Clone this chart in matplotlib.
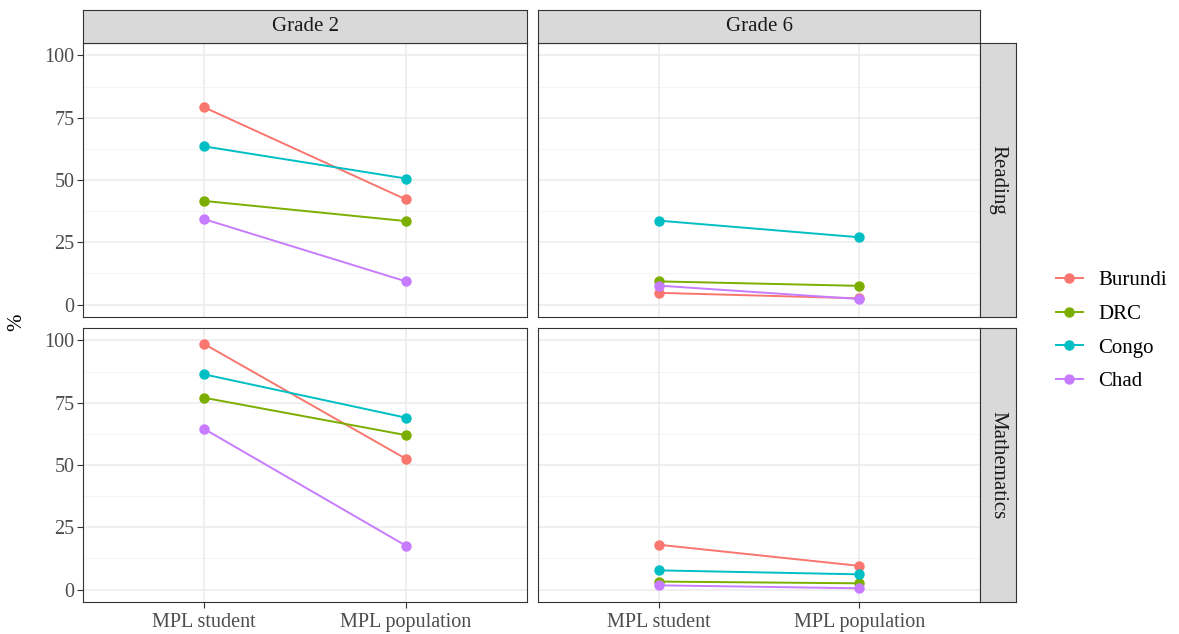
import numpy as np
import matplotlib
matplotlib.use("Agg")
import matplotlib.pyplot as plt
from matplotlib.lines import Line2D

plt.rcParams['font.family'] = ['Liberation Serif', 'DejaVu Serif']

# data
categories = ['MPL student', 'MPL population']
countries = ['Burundi', 'DRC', 'Congo', 'Chad']
colors = ['#F8766D', '#7CAE00', '#00BFC4', '#C77CFF']
grades = ['Grade 2', 'Grade 6']
subjects = ['Reading', 'Mathematics']

reading_g2 = {'Burundi': [79.2, 42.2], 'DRC': [41.6, 33.5], 'Congo': [63.5, 50.6], 'Chad': [34.3, 9.3]}
reading_g6 = {'Burundi': [4.7, 2.5], 'DRC': [9.3, 7.5], 'Congo': [33.7, 27.0], 'Chad': [7.6, 2.2]}
math_g2 = {'Burundi': [98.6, 52.5], 'DRC': [77.0, 62.0], 'Congo': [86.4, 69.0], 'Chad': [64.5, 17.6]}
math_g6 = {'Burundi': [18.0, 9.5], 'DRC': [3.2, 2.5], 'Congo': [7.7, 6.1], 'Chad': [1.7, 0.5]}

panel_data = {('Reading', 'Grade 2'): reading_g2, ('Reading', 'Grade 6'): reading_g6,
              ('Mathematics', 'Grade 2'): math_g2, ('Mathematics', 'Grade 6'): math_g6}

W, H = 1179, 634
fig = plt.figure(figsize=(W / 100, H / 100), dpi=100)

def box(x0, y0, x1, y1):
    # pixel box (top-left origin) -> figure fraction rect
    return [x0 / W, 1 - y1 / H, (x1 - x0) / W, (y1 - y0) / H]

col_x = [(83, 527), (538, 980)]
row_y = [(43, 317), (328, 602)]
border = '#333333'
tick_fs = 14.5
strip_fs = 15

for r, subj in enumerate(subjects):
    for c, gr in enumerate(grades):
        x0, x1 = col_x[c]
        y0, y1 = row_y[r]
        ax = fig.add_axes(box(x0, y0, x1, y1))
        xs = np.arange(1, len(categories) + 1)
        for name, col in zip(countries, colors):
            ax.plot(xs, panel_data[(subj, gr)][name], color=col, lw=1.4,
                    marker='o', ms=6.5, zorder=3)
        ax.set_xlim(0.4, 2.6)
        ax.set_ylim(-5, 105)
        ax.set_yticks([0, 25, 50, 75, 100])
        ax.set_yticks([12.5, 37.5, 62.5, 87.5], minor=True)
        ax.set_xticks(xs)
        ax.grid(True, which='major', color='#EBEBEB', lw=1.1, zorder=0)
        ax.grid(True, which='minor', axis='y', color='#F2F2F2', lw=0.6, zorder=0)
        ax.tick_params(which='minor', length=0)
        ax.tick_params(which='major', length=4, width=0.8, color=border,
                       labelsize=tick_fs, labelcolor='#4D4D4D', pad=2)
        ax.tick_params(axis='x', pad=4)
        for s in ax.spines.values():
            s.set_color(border)
            s.set_linewidth(0.8)
        if c == 0:
            ax.set_yticklabels(['0', '25', '50', '75', '100'])
        else:
            ax.tick_params(axis='y', left=False, labelleft=False)
        if r == 1:
            ax.set_xticklabels(categories)
        else:
            ax.tick_params(axis='x', bottom=False, labelbottom=False)

# column strips
for c, gr in enumerate(grades):
    x0, x1 = col_x[c]
    sax = fig.add_axes(box(x0, 10, x1, 43))
    sax.set_facecolor('#D9D9D9')
    sax.set_xticks([]); sax.set_yticks([])
    for s in sax.spines.values():
        s.set_color(border); s.set_linewidth(0.8)
    sax.text(0.5, 0.5, gr, ha='center', va='center', fontsize=strip_fs, color='#1A1A1A',
             transform=sax.transAxes)

# row strips
for r, subj in enumerate(subjects):
    y0, y1 = row_y[r]
    sax = fig.add_axes(box(980, y0, 1016, y1))
    sax.set_facecolor('#D9D9D9')
    sax.set_xticks([]); sax.set_yticks([])
    for s in sax.spines.values():
        s.set_color(border); s.set_linewidth(0.8)
    sax.text(0.5, 0.5, subj, ha='center', va='center', fontsize=strip_fs, color='#1A1A1A',
             rotation=-90, transform=sax.transAxes)

fig.text(17 / W, 1 - 322 / H, '%', rotation=90, ha='center', va='center', fontsize=15)

handles = [Line2D([0], [0], color=col, lw=1.4, marker='o', ms=6.5) for col in colors]
fig.legend(handles, countries, loc='center left', bbox_to_anchor=(1037 / W, 1 - 331 / H),
           frameon=False, fontsize=15, handlelength=1.3, labelspacing=0.68,
           handletextpad=0.75)

fig.savefig('out.png', dpi=100)
